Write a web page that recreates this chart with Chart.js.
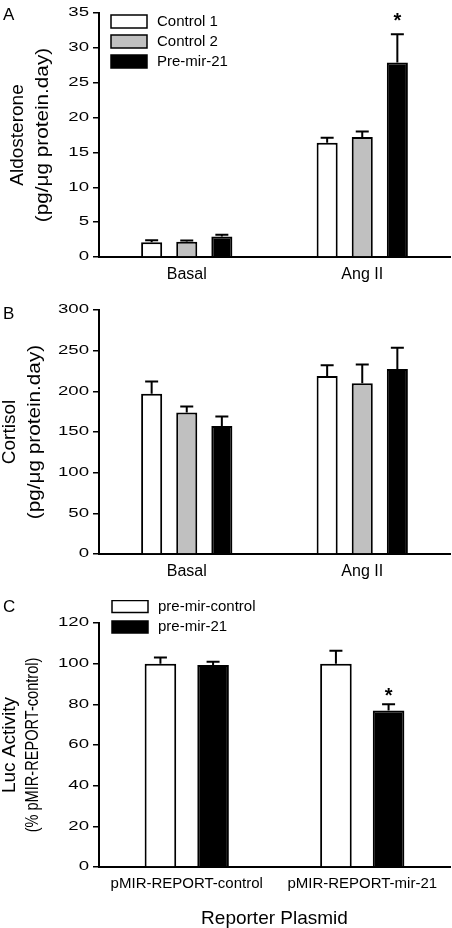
<!DOCTYPE html>
<html>
<head>
<meta charset="utf-8">
<script src="https://cdn.jsdelivr.net/npm/chart.js@4.4.0/dist/chart.umd.min.js"></script>
<style>
  body { margin: 0; background: #fff; width: 452px; height: 928px; position: relative; overflow: hidden; font-family: "Liberation Sans", Arial, sans-serif; }
  .panel { position: absolute; left: 0; width: 452px; }
  .tag { position: absolute; left: 3px; font-size: 17px; line-height: 17px; color: #000; }
</style>
</head>
<body>
<div class="panel" style="top:0;height:295px"><canvas id="chartA"></canvas></div>
<div class="panel" style="top:295px;height:305px"><canvas id="chartB"></canvas></div>
<div class="panel" style="top:600px;height:328px"><canvas id="chartC"></canvas></div>
<div class="tag" style="top:6px">A</div>
<div class="tag" style="top:305px">B</div>
<div class="tag" style="top:598px">C</div>
<script>
const FONT = '"Liberation Sans", Arial, sans-serif';

// panel A - aldosterone
const groups = ['Basal', 'Ang II'];
const aldoControl1 = [2.1, 16.4];
const aldoControl1Err = [0.3, 0.7];
const aldoControl2 = [2.2, 17.2];
const aldoControl2Err = [0.15, 0.8];
const aldoPreMir21 = [2.95, 27.9];
const aldoPreMir21Err = [0.25, 4.05];
const aldoStars = [false, true];
const aldoTitle = ['Aldosterone', '(pg/\u03bcg protein.day)'];
const aldoMax = 35, aldoStep = 5;

// panel B - cortisol
const cortControl1 = [197, 219];
const cortControl1Err = [15, 13];
const cortControl2 = [174, 210];
const cortControl2Err = [7.5, 23];
const cortPreMir21 = [157.5, 227.5];
const cortPreMir21Err = [11.5, 26];
const cortTitle = ['Cortisol', '(pg/\u03bcg protein.day)'];
const cortMax = 300, cortStep = 50;

// panel C - luciferase
const plasmids = ['pMIR-REPORT-control', 'pMIR-REPORT-mir-21'];
const lucControl = [100, 100];
const lucControlErr = [3, 6.3];
const lucPreMir21 = [99.3, 77];
const lucPreMir21Err = [1.6, 3];
const lucStars = [false, true];
const lucTitle = ['Luc Activity', '(% pMIR-REPORT-control)'];
const lucXTitle = 'Reporter Plasmid';
const lucMax = 120, lucStep = 20;

const WHITE = '#ffffff', GRAY = '#c0c0c0', BLACK = '#000000';

// error whiskers (upper only) and significance stars
const errorBars = {
    id: 'errorBars',
    afterDatasetsDraw(chart) {
        const ctx = chart.ctx;
        const y = chart.scales.y;
        const gap = chart.options.plugins.errorBars.starGap;
        chart.data.datasets.forEach((ds, i) => {
            chart.getDatasetMeta(i).data.forEach((bar, j) => {
                const top = y.getPixelForValue(ds.data[j] + ds.errors[j]);
                ctx.save();
                ctx.strokeStyle = '#000';
                ctx.lineWidth = 2;
                ctx.beginPath();
                ctx.moveTo(bar.x, bar.y);
                ctx.lineTo(bar.x, top);
                ctx.moveTo(bar.x - 6.5, top);
                ctx.lineTo(bar.x + 6.5, top);
                ctx.stroke();
                if (ds.stars && ds.stars[j]) {
                    ctx.fillStyle = '#000';
                    ctx.font = 'bold 20px ' + FONT;
                    ctx.textAlign = 'center';
                    ctx.textBaseline = 'middle';
                    ctx.fillText('*', bar.x, top - gap);
                }
                ctx.restore();
            });
        });
    }
};

// legend boxes drawn inside the plot
const boxLegend = {
    id: 'boxLegend',
    afterDraw(chart) {
        const o = chart.options.plugins.boxLegend;
        if (!o.show) return;
        const ctx = chart.ctx;
        chart.data.datasets.forEach((ds, i) => {
            const cy = o.y + i * o.step;
            ctx.save();
            ctx.fillStyle = ds.backgroundColor;
            ctx.fillRect(o.x, cy - o.h / 2, o.w, o.h);
            ctx.strokeStyle = '#000';
            ctx.lineWidth = 1.5;
            ctx.strokeRect(o.x, cy - o.h / 2, o.w, o.h);
            ctx.fillStyle = '#000';
            ctx.font = '15px ' + FONT;
            ctx.textAlign = 'left';
            ctx.textBaseline = 'middle';
            ctx.fillText(ds.label, o.x + o.w + 10, cy);
            ctx.restore();
        });
    }
};

// wide y tick labels and two-line y title
const axisText = {
    id: 'axisText',
    afterDraw(chart) {
        const o = chart.options.plugins.axisText;
        const ctx = chart.ctx;
        const y = chart.scales.y;
        const area = chart.chartArea;
        y.ticks.forEach((t, i) => {
            ctx.save();
            ctx.translate(area.left - 10, y.getPixelForTick(i));
            ctx.scale(1.55, 1);
            ctx.fillStyle = '#000';
            ctx.font = '12px ' + FONT;
            ctx.textAlign = 'right';
            ctx.textBaseline = 'middle';
            ctx.fillText(String(t.value), 0, 0);
            ctx.restore();
        });
        const mid = (area.top + area.bottom) / 2;
        o.text.forEach((line, i) => {
            ctx.save();
            ctx.translate(o.x[i], mid);
            ctx.rotate(-Math.PI / 2);
            ctx.scale(o.stretch[i], 1);
            ctx.fillStyle = '#000';
            ctx.font = o.size[i] + 'px ' + FONT;
            ctx.textAlign = 'center';
            ctx.textBaseline = 'middle';
            ctx.fillText(line, 0, 0);
            ctx.restore();
        });
    }
};

function barChart(id, labels, datasets, o) {
    return new Chart(document.getElementById(id), {
        type: 'bar',
        data: { labels: labels, datasets: datasets },
        options: {
            responsive: true,
            maintainAspectRatio: false,
            animation: false,
            layout: { padding: { top: o.top, right: 2, left: 0, bottom: 0 } },
            datasets: {
                bar: { categoryPercentage: 0.6, barPercentage: 0.6, borderWidth: 2, borderColor: '#000', borderSkipped: 'start' }
            },
            scales: {
                x: {
                    grid: { display: false, drawTicks: false },
                    border: { color: '#000', width: 2 },
                    ticks: { color: '#000', font: { family: FONT, size: o.xFont }, padding: 8, maxRotation: 0, autoSkip: false },
                    title: o.xTitle
                        ? { display: true, text: o.xTitle, color: '#000', font: { family: FONT, size: 19, lineHeight: 1 }, padding: { top: 0, bottom: 0 } }
                        : { display: false },
                    afterFit: s => { s.height = o.xHeight; }
                },
                y: {
                    min: 0,
                    max: o.max,
                    ticks: { stepSize: o.step, display: false },
                    grid: { drawOnChartArea: false, tickLength: 6, color: '#000', lineWidth: 1.5 },
                    border: { color: '#000', width: 2 },
                    afterFit: s => { s.width = 99; }
                }
            },
            plugins: {
                legend: { display: false },
                tooltip: { enabled: false },
                errorBars: { starGap: o.starGap },
                boxLegend: o.legend,
                axisText: o.yTitle
            }
        },
        plugins: [errorBars, boxLegend, axisText]
    });
}

barChart('chartA', groups, [
    { label: 'Control 1', data: aldoControl1, errors: aldoControl1Err, backgroundColor: WHITE },
    { label: 'Control 2', data: aldoControl2, errors: aldoControl2Err, backgroundColor: GRAY },
    { label: 'Pre-mir-21', data: aldoPreMir21, errors: aldoPreMir21Err, stars: aldoStars, backgroundColor: BLACK }
], {
    top: 13, xHeight: 38, xFont: 16, max: aldoMax, step: aldoStep, starGap: 13,
    legend: { show: true, x: 111, y: 21.5, step: 20, w: 36, h: 13 },
    yTitle: { text: aldoTitle, x: [18, 43], size: [19, 19], stretch: [1, 1.09] }
});

barChart('chartB', groups, [
    { label: 'Control 1', data: cortControl1, errors: cortControl1Err, backgroundColor: WHITE },
    { label: 'Control 2', data: cortControl2, errors: cortControl2Err, backgroundColor: GRAY },
    { label: 'Pre-mir-21', data: cortPreMir21, errors: cortPreMir21Err, backgroundColor: BLACK }
], {
    top: 15, xHeight: 46, xFont: 16, max: cortMax, step: cortStep, starGap: 13,
    legend: { show: false },
    yTitle: { text: cortTitle, x: [10, 35], size: [19, 19], stretch: [1, 1.09] }
});

barChart('chartC', plasmids, [
    { label: 'pre-mir-control', data: lucControl, errors: lucControlErr, backgroundColor: WHITE },
    { label: 'pre-mir-21', data: lucPreMir21, errors: lucPreMir21Err, stars: lucStars, backgroundColor: BLACK }
], {
    top: 23, xHeight: 61, xFont: 15, max: lucMax, step: lucStep, starGap: 8, xTitle: lucXTitle,
    legend: { show: true, x: 112, y: 6.5, step: 20.5, w: 36, h: 12 },
    yTitle: { text: lucTitle, x: [10, 33], size: [19, 18], stretch: [1, 0.81] }
});
</script>
</body>
</html>
